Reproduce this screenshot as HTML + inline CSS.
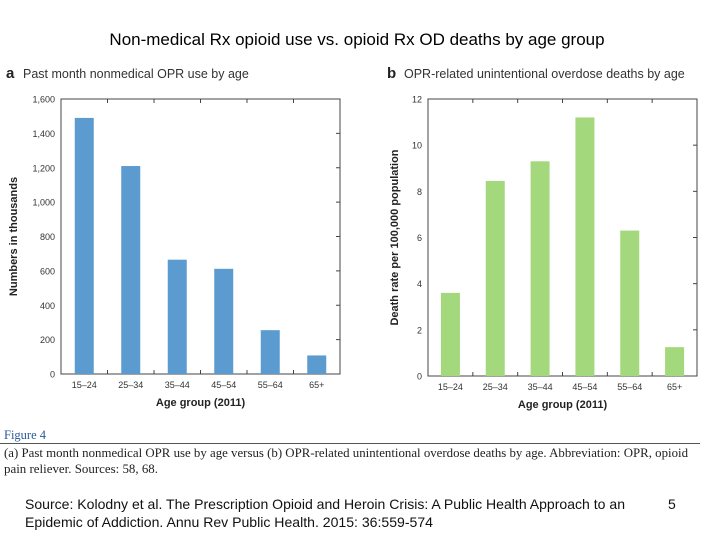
<!DOCTYPE html>
<html><head><meta charset="utf-8"><style>
body{margin:0;background:#fff;width:720px;height:540px;overflow:hidden;font-family:"Liberation Sans",sans-serif}
</style></head><body>
<svg id="s" width="720" height="540" font-family="Liberation Sans, sans-serif">
<text x="357" y="45" font-size="17" text-anchor="middle" fill="#000">Non-medical Rx opioid use vs. opioid Rx OD deaths by age group</text>
<g id="ca"></g>
<g id="cb"></g>
<text x="4" y="439" font-family="Liberation Serif, serif" font-size="12.5" fill="#2a5a9a">Figure 4</text>
<line x1="0" y1="443.5" x2="700" y2="443.5" stroke="#555"/>
<text font-family="Liberation Serif, serif" font-size="12.5" fill="#222"><tspan x="4" y="457" textLength="684" lengthAdjust="spacingAndGlyphs">(a) Past month nonmedical OPR use by age versus (b) OPR-related unintentional overdose deaths by age. Abbreviation: OPR, opioid</tspan><tspan x="4" y="473" textLength="154" lengthAdjust="spacingAndGlyphs">pain reliever. Sources: 58, 68.</tspan></text>
<text font-size="14" fill="#111"><tspan x="25" y="509" textLength="600" lengthAdjust="spacingAndGlyphs">Source: Kolodny et al. The Prescription Opioid and Heroin Crisis: A Public Health Approach to an</tspan><tspan x="25" y="527" textLength="408" lengthAdjust="spacingAndGlyphs">Epidemic of Addiction. Annu Rev Public Health. 2015: 36:559-574</tspan></text>
<text x="668" y="509" font-size="14" fill="#111">5</text>
</svg>
<script>
const categories=["15–24","25–34","35–44","45–54","55–64","65+"];
const useValues=[1490,1210,665,612,255,108];
const useTicks=[0,200,400,600,800,1000,1200,1400,1600];
const useTickLabels=["0","200","400","600","800","1,000","1,200","1,400","1,600"];
const deathValues=[3.6,8.45,9.3,11.2,6.3,1.25];
const deathTicks=[0,2,4,6,8,10,12];
const deathTickLabels=["0","2","4","6","8","10","12"];
const NS="http://www.w3.org/2000/svg";
function mk(p,t,a){const e=document.createElementNS(NS,t);for(const k in a)e.setAttribute(k,a[k]);p.appendChild(e);return e;}
function chart(g,o){
  const {x0,x1,y0,y1,max,vals,ticks,labels,color,letter,title,ytitle,ytx,pre}=o;
  const ys=v=>y1-(v/max)*(y1-y0);
  const bw=(x1-x0)/categories.length;
  const xs=i=>x0+bw*(i+0.5);
  let t=mk(g,'text',{x:letter.x,y:78,'font-size':15,'font-weight':'bold',fill:'#222'});t.textContent=letter.t;
  
  
  t=mk(g,'text',{x:letter.x+17,y:78,'font-size':12.5,fill:'#333'});t.textContent=title;
  
  
  const fr=mk(g,'rect',{x:x0,y:y0,width:x1-x0,height:y1-y0,fill:'none',stroke:'#444','stroke-width':1});
  
  
  ticks.forEach((v,i)=>{
    const y=ys(v);
    mk(g,'line',{x1:x1-4,x2:x1,y1:y,y2:y,stroke:'#444'});
    const l=mk(g,'text',{x:x0-6,y:y+3.5,'font-size':9,'text-anchor':'end',fill:'#333'});l.textContent=labels[i];
    
    
  });
  for(let i=1;i<categories.length;i++){const x=x0+bw*i;mk(g,'line',{x1:x,x2:x,y1:y0,y2:y0+4,stroke:'#444'});mk(g,'line',{x1:x,x2:x,y1:y1,y2:y1-4,stroke:'#444'});}
  vals.forEach((v,i)=>{
    const r=mk(g,'rect',{x:xs(i)-9.5,y:ys(v),width:19,height:y1-ys(v),fill:color});
    
    
    const l=mk(g,'text',{x:xs(i),y:y1+14,'font-size':9,'text-anchor':'middle',fill:'#333'});l.textContent=categories[i];
    
    
  });
  t=mk(g,'text',{x:(x0+x1)/2,y:y1+32,'font-size':11,'font-weight':'bold','text-anchor':'middle',fill:'#222'});t.textContent='Age group (2011)';
  
  
  t=mk(g,'text',{x:0,y:0,'font-size':11,'font-weight':'bold','text-anchor':'middle',fill:'#222',transform:`translate(${ytx},${(y0+y1)/2}) rotate(-90)`});t.textContent=ytitle;
  
  
}
chart(document.getElementById('ca'),{x0:61,x1:340,y0:99,y1:374,max:1600,vals:useValues,ticks:useTicks,labels:useTickLabels,color:'#5b9bd0',letter:{x:6,t:'a'},title:'Past month nonmedical OPR use by age',ytitle:'Numbers in thousands',ytx:17,pre:'a-'});
chart(document.getElementById('cb'),{x0:428,x1:697,y0:99,y1:376,max:12,vals:deathValues,ticks:deathTicks,labels:deathTickLabels,color:'#a3d87d',letter:{x:387,t:'b'},title:'OPR-related unintentional overdose deaths by age',ytitle:'Death rate per 100,000 population',ytx:398,pre:'b-'});
</script>
</body></html>
